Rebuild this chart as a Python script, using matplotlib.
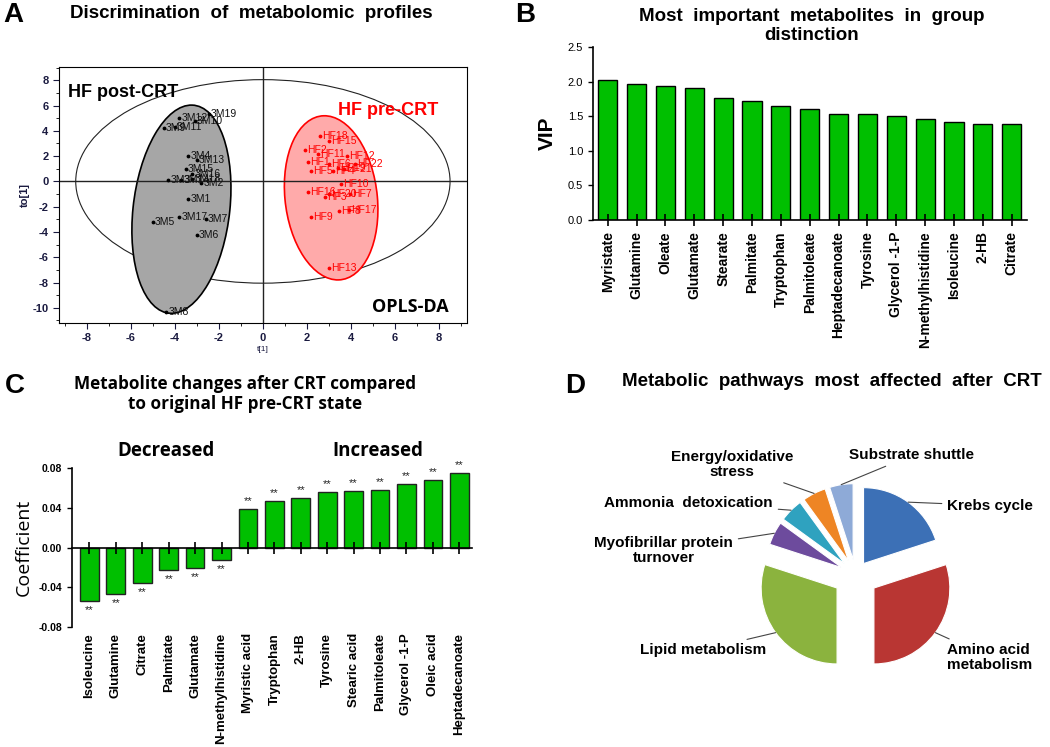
import numpy as np
import matplotlib
matplotlib.use("Agg")
from matplotlib import pyplot as plt
from matplotlib.patches import Ellipse

plt.rcParams["font.family"] = ["Liberation Sans", "DejaVu Sans"]
plt.rcParams["axes.unicode_minus"] = False

# ---- panel A: OPLS-DA scores
post_names = ["3M19", "3M12", "3M10", "3M9", "3M11", "3M4", "3M13", "3M15", "3M16", "3M3",
              "3M14", "3M18", "3M2", "3M1", "3M5", "3M17", "3M7", "3M6", "3M8"]
post_t = [-2.45, -3.8, -3.1, -4.5, -4.0, -3.4, -3.0, -3.5, -3.2, -4.3,
          -3.7, -3.2, -2.8, -3.4, -5.0, -3.8, -2.6, -3.0, -4.4]
post_to = [5.35, 5.0, 4.8, 4.2, 4.3, 2.0, 1.7, 1.0, 0.6, 0.1,
           0.1, 0.2, -0.1, -1.4, -3.25, -2.8, -3.0, -4.2, -10.3]

pre_names = ["HF18", "HF15", "HF2", "HF1", "HF11", "HF12", "HF22", "HF5", "HF19", "HF6",
             "HF21", "HF4", "HF10", "HF16", "HF20", "HF7", "HF3", "HF9", "HF8", "HF17", "HF13"]
pre_t = [2.6, 2.98, 1.92, 2.03, 2.5, 3.82, 4.2, 2.18, 3.4, 3.0,
         3.7, 3.2, 3.56, 2.03, 2.98, 3.97, 2.83, 2.2, 3.44, 3.9, 2.98]
pre_to = [3.56, 3.17, 2.45, 1.53, 2.2, 1.98, 1.4, 0.84, 1.1, 1.4,
          1.0, 0.8, -0.18, -0.87, -1.0, -1.0, -1.24, -2.82, -2.37, -2.3, -6.86]

# ---- panel B: VIP
vip_names = ["Myristate", "Glutamine", "Oleate", "Glutamate", "Stearate", "Palmitate",
             "Tryptophan", "Palmitoleate", "Heptadecanoate", "Tyrosine", "Glycerol -1-P",
             "N-methylhistidine", "Isoleucine", "2-HB", "Citrate"]
vip_values = [2.02, 1.97, 1.93, 1.91, 1.76, 1.72, 1.65, 1.60, 1.53, 1.53, 1.51, 1.46, 1.41, 1.39, 1.39]

# ---- panel C: coefficients
coef_names = ["Isoleucine", "Glutamine", "Citrate", "Palmitate", "Glutamate", "N-methylhistidine",
              "Myristic acid", "Tryptophan", "2-HB", "Tyrosine", "Stearic acid", "Palmitoleate",
              "Glycerol -1-P", "Oleic acid", "Heptadecanoate"]
coef_values = [-0.054, -0.047, -0.036, -0.023, -0.021, -0.013,
               0.039, 0.047, 0.050, 0.056, 0.057, 0.058, 0.064, 0.068, 0.075]

# ---- panel D: pathways
path_names = ["Krebs cycle", "Amino acid\nmetabolism", "Lipid metabolism",
              "Myofibrillar protein\nturnover", "Ammonia  detoxication",
              "Energy/oxidative\nstress", "Substrate shuttle"]
path_values = [20, 30, 30, 5, 5, 5, 5]
path_colors = ["#3C70B6", "#B93633", "#8BB33E", "#6D4B9D", "#2FA2BF", "#EE8524", "#8EAAD7"]

W, H = 1050, 747
fig = plt.figure(figsize=(10.5, 7.47), dpi=100)


def box(x0, y0, x1, y1):
    return [x0 / W, 1 - y1 / H, (x1 - x0) / W, (y1 - y0) / H]


green = "#00BF00"
navy = "#1a1a40"

# panel letters and titles
for letter, x, y in [("A", 3, 15), ("B", 515, 15), ("C", 5, 386), ("D", 565, 386)]:
    fig.text(x / W, 1 - y / H, letter, fontsize=20, fontweight="bold", va="center")
fig.text(251 / W, 1 - 14 / H, "Discrimination  of  metabolomic  profiles", fontsize=13.5,
         fontweight="bold", ha="center", va="center")
fig.text(812 / W, 1 - 26 / H, "Most  important  metabolites  in  group\ndistinction", fontsize=13.5,
         fontweight="bold", ha="center", va="center", linespacing=1.1)
fig.text(245 / W, 1 - 394 / H, "Metabolite changes after CRT compared\nto original HF pre-CRT state",
         fontsize=12.3, fontweight="bold", ha="center", va="center", linespacing=1.2,
         family=["Open Sans", "DejaVu Sans"])
fig.text(832 / W, 1 - 381 / H, "Metabolic  pathways  most  affected  after  CRT", fontsize=13.5,
         fontweight="bold", ha="center", va="center")

# ---------------- A
axA = fig.add_axes(box(59, 67, 467, 323))
axA.add_patch(Ellipse((0, 0), 17.0, 16.1, fill=False, ec="#222222", lw=0.8))
axA.add_patch(Ellipse((-3.7, -2.2), 4.4, 16.5, angle=-3.4, fc="#a6a6a6", ec="black", lw=1.2))
axA.add_patch(Ellipse((3.1, -1.3), 4.2, 13.0, angle=3.0, fc="#ffaaaa", ec="red", lw=1.2))
axA.axhline(0, color="#222222", lw=1)
axA.axvline(0, color="#222222", lw=1)
axA.scatter(post_t, post_to, s=3, color="black", zorder=3)
axA.scatter(pre_t, pre_to, s=3, color="red", zorder=3)
for n, x, y in zip(post_names, post_t, post_to):
    axA.text(x + 0.1, y, n, fontsize=7.5, color="#111111", va="center", zorder=4)
for n, x, y in zip(pre_names, pre_t, pre_to):
    axA.text(x + 0.1, y, n, fontsize=7.5, color="red", va="center", zorder=4)
axA.set_xlim(-9.26, 9.27)
axA.set_ylim(-11.2, 9.05)
axA.set_xticks(np.arange(-8, 9, 2))
axA.set_yticks(np.arange(-10, 9, 2))
axA.set_xticks(np.arange(-9, 10, 1), minor=True)
axA.set_yticks(np.arange(-11, 10, 1), minor=True)
axA.tick_params(labelsize=8, colors=navy, labelcolor=navy, length=4, width=0.8)
axA.tick_params(which="minor", length=2.5)
for lab in axA.get_xticklabels() + axA.get_yticklabels():
    lab.set_fontweight("bold")
axA.set_xlabel("t[1]", fontsize=6, color=navy, labelpad=2)
axA.set_ylabel("to[1]", fontsize=8, color=navy, fontweight="bold", labelpad=2)
axA.text(-8.85, 7.0, "HF post-CRT", fontsize=13, fontweight="bold", va="center")
axA.text(3.4, 5.6, "HF pre-CRT", fontsize=13, fontweight="bold", color="red", va="center")
axA.text(8.45, -9.9, "OPLS-DA", fontsize=13, fontweight="bold", ha="right", va="center",
         family=["Open Sans", "DejaVu Sans"])

# ---------------- B
axB = fig.add_axes(box(593, 47, 1027, 220))
xb = np.arange(len(vip_names))
axB.bar(xb, vip_values, width=0.66, color=green, edgecolor="black", linewidth=1)
axB.set_xlim(-0.51, 14.53)
axB.set_ylim(0, 2.5)
axB.set_yticks([0, 0.5, 1.0, 1.5, 2.0, 2.5])
axB.set_yticklabels(["0.0", "0.5", "1.0", "1.5", "2.0", "2.5"])
axB.set_xticks(xb)
axB.set_xticklabels(vip_names, rotation=90, fontsize=10, fontweight="bold")
axB.tick_params(axis="x", direction="inout", length=8, width=1.2, pad=4)
axB.tick_params(axis="y", labelsize=8, width=1)
axB.spines[["top", "right"]].set_visible(False)
axB.spines[["left", "bottom"]].set_linewidth(1.2)
axB.set_ylabel("VIP", fontsize=15, fontweight="bold", labelpad=8)

# ---------------- C
axC = fig.add_axes(box(72, 468, 472, 627))
xc = np.arange(len(coef_names))
axC.bar(xc, coef_values, width=0.71, color=green, edgecolor="#222222", linewidth=1)
for x, v in zip(xc, coef_values):
    off = 0.003 if v > 0 else -0.004
    axC.text(x, v + off, "**", ha="center", va="bottom" if v > 0 else "top", fontsize=8,
             color="#222222", clip_on=False)
axC.set_xlim(-0.66, 14.48)
axC.set_ylim(-0.08, 0.08)
axC.set_yticks([-0.08, -0.04, 0, 0.04, 0.08])
axC.set_yticklabels(["-0.08", "-0.04", "0.00", "0.04", "0.08"])
axC.spines[["top", "right"]].set_visible(False)
axC.spines["bottom"].set_position(("data", 0))
axC.spines[["left", "bottom"]].set_linewidth(1.2)
axC.set_xticks(xc)
axC.set_xticklabels(coef_names, rotation=90, fontsize=9.5, fontweight="bold", va="top")
axC.tick_params(axis="x", direction="inout", length=9, width=1.2, pad=57)
axC.tick_params(axis="y", labelsize=7.5, width=1)
for lab in axC.get_yticklabels():
    lab.set_fontweight("bold")
axC.set_ylabel("Coefficient", fontsize=14, family=["Open Sans", "DejaVu Sans"], labelpad=4)
axC.text(2.9, 0.087, "Decreased", fontsize=13.5, fontweight="bold", ha="center", va="bottom",
         family=["Open Sans", "DejaVu Sans"])
axC.text(10.9, 0.087, "Increased", fontsize=13.5, fontweight="bold", ha="center", va="bottom",
         family=["Open Sans", "DejaVu Sans"])

# ---------------- D
axD = fig.add_axes(box(560, 400, 1050, 747))
wedges, _ = axD.pie(path_values, colors=path_colors, startangle=90, counterclock=False,
                    explode=[0.18, 0.3, 0.3, 0.2, 0.2, 0.2, 0.2],
                    wedgeprops=dict(edgecolor="white", linewidth=0.8))
axD.set_aspect("equal")
axD.set_xlim(-3.89, 2.56)
axD.set_ylim(-2.27, 2.30)
axD.axis("off")
label_pos = [(1.21, 0.91, "left"), (1.21, -1.09, "left"), (-1.18, -0.99, "right"),
             (-2.53, 0.32, "center"), (-1.09, 0.95, "right"), (-1.63, 1.45, "center"),
             (-0.08, 1.57, "left")]
for w, name, (tx, ty, ha) in zip(wedges, path_names, label_pos):
    ang = np.deg2rad((w.theta1 + w.theta2) / 2)
    cx, cy = w.center
    px, py = cx + w.r * np.cos(ang), cy + w.r * np.sin(ang)
    axD.annotate(name, xy=(px, py), xytext=(tx, ty), ha=ha, va="center", fontsize=11,
                 fontweight="bold", linespacing=1.1,
                 arrowprops=dict(arrowstyle="-", color="#444444", lw=0.8, shrinkA=2, shrinkB=0))

fig.savefig("out.png", dpi=100)
